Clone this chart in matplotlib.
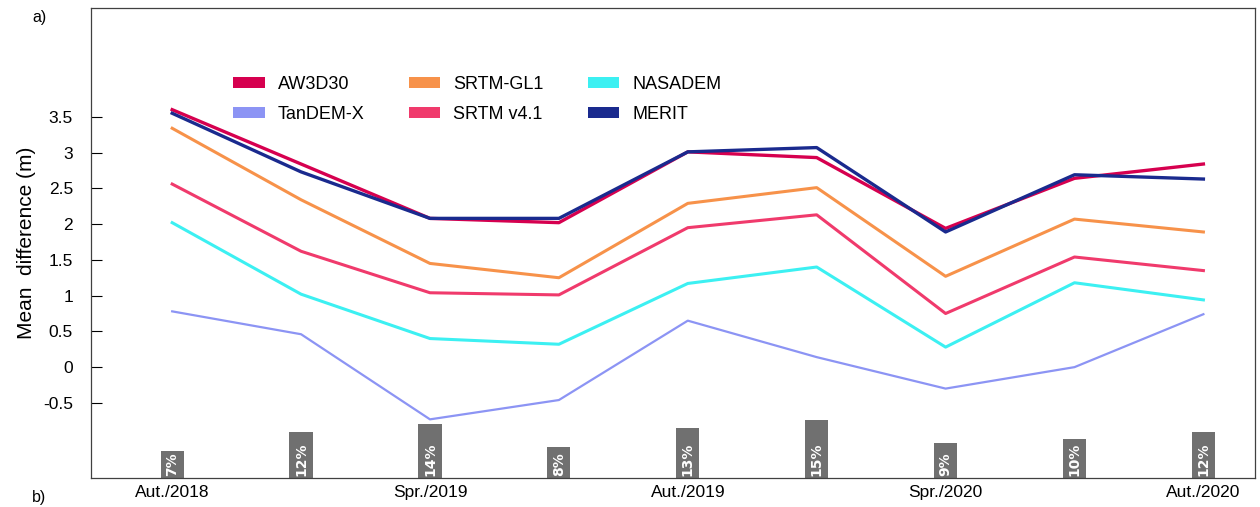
import matplotlib
matplotlib.use("Agg")
import matplotlib.pyplot as plt
from matplotlib.patches import Patch
import numpy as np

plt.rcParams['font.family'] = ['Liberation Sans', 'DejaVu Sans']

seasons = ['Aut./2018', '', 'Spr./2019', '', 'Aut./2019', '', 'Spr./2020', '', 'Aut./2020']
aw3d30 = [3.60, 2.84, 2.08, 2.02, 3.01, 2.93, 1.94, 2.64, 2.84]
tandem = [0.78, 0.46, -0.73, -0.46, 0.65, 0.14, -0.30, 0.00, 0.74]
srtm_gl1 = [3.34, 2.34, 1.45, 1.25, 2.29, 2.51, 1.27, 2.07, 1.89]
srtm_v41 = [2.56, 1.62, 1.04, 1.01, 1.95, 2.13, 0.75, 1.54, 1.35]
nasadem = [2.02, 1.02, 0.40, 0.32, 1.17, 1.40, 0.28, 1.18, 0.94]
merit = [3.55, 2.73, 2.08, 2.08, 3.01, 3.07, 1.89, 2.69, 2.63]
cover_pct = [7, 12, 14, 8, 13, 15, 9, 10, 12]

series = [
    ('AW3D30', aw3d30, '#d6004f', 2.4),
    ('TanDEM-X', tandem, '#8c94f4', 1.6),
    ('SRTM-GL1', srtm_gl1, '#f7924a', 2.2),
    ('SRTM v4.1', srtm_v41, '#f03a6c', 2.2),
    ('NASADEM', nasadem, '#3cf0f2', 2.2),
    ('MERIT', merit, '#1a2a8e', 2.4),
]

fig = plt.figure(figsize=(12.6, 5.07), dpi=100)
ax = fig.add_axes([0.0722, 0.0572, 0.9238, 0.9268])
x = np.arange(len(seasons))

# percentage bars on a hidden twin axis
ax2 = ax.twinx()
ax2.bar(x, cover_pct, width=0.18, color='#707070', zorder=1)
for xi, p in zip(x, cover_pct):
    ax2.text(xi, 0.5, f'{p}%', rotation=90, ha='center', va='bottom',
             color='white', fontsize=10, fontweight='bold',
             family=['DejaVu Sans'])
ax2.set_ylim(0, 122)
ax2.axis('off')

# draw order so the navy line sits above the crimson one where they overlap
order = [1, 4, 3, 2, 0, 5]
for i in order:
    name, vals, col, lw = series[i]
    ax.plot(x, vals, color=col, lw=lw, zorder=3)
ax.set_zorder(ax2.get_zorder() + 1)
ax.patch.set_visible(False)

ax.set_xlim(-0.63, 8.4)
ax.set_ylim(-1.55, 5.02)
ax.set_yticks([-0.5, 0, 0.5, 1, 1.5, 2, 2.5, 3, 3.5])
ax.set_yticklabels(['-0.5', '0', '0.5', '1', '1.5', '2', '2.5', '3', '3.5'])
ax.set_xticks(x)
ax.set_xticklabels(seasons)
ax.tick_params(axis='x', length=0, labelsize=12.5, pad=5)
ax.tick_params(axis='y', direction='in', length=8, labelsize=12.5,
               width=0.8, pad=13)
ax.set_ylabel('Mean  difference (m)', fontsize=15, labelpad=5)
for s in ax.spines.values():
    s.set_linewidth(0.9)
    s.set_color('#404040')

handles = [Patch(facecolor=c, edgecolor='none') for _, _, c, _ in series]
labels = [n for n, _, _, _ in series]
ax.legend(handles, labels, ncol=3, frameon=False, fontsize=13,
          loc='upper left', bbox_to_anchor=(0.108, 0.89),
          handlelength=1.75, handleheight=0.6, handletextpad=0.72,
          columnspacing=2.45, labelspacing=0.72)

fig.text(0.031, 0.965, 'a)', fontsize=11.5, ha='center', va='center')
fig.text(0.031, 0.003, 'b)', fontsize=11.5, ha='center', va='bottom')

fig.savefig('out.png', dpi=100)
